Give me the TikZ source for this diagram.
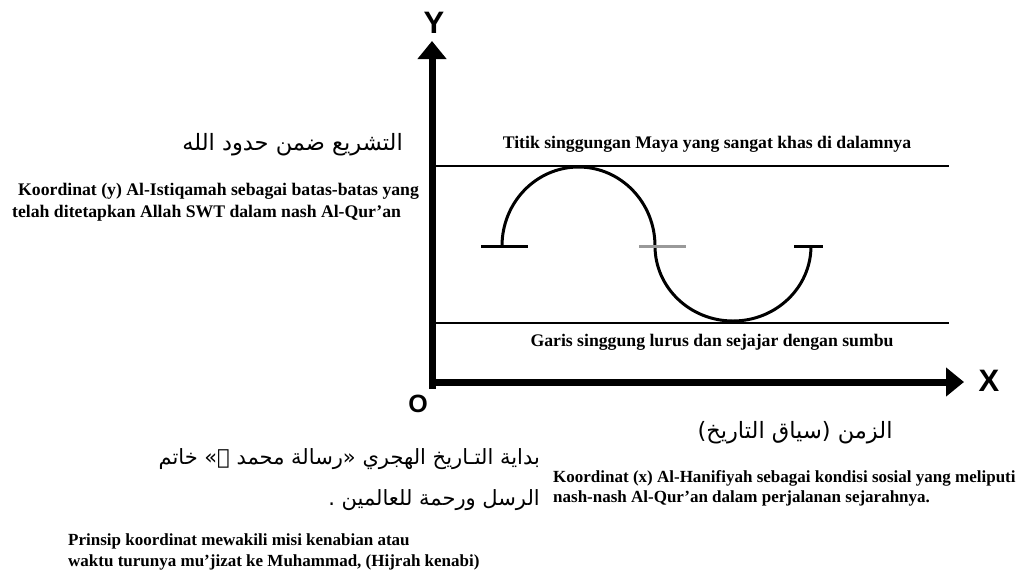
\documentclass[tikz,border=0pt]{standalone}
\usepackage{fontspec}
\setmainfont{Liberation Serif}
\newfontfamily\arabicfont[Script=Arabic]{DejaVu Sans}
\newfontfamily\axfont{Liberation Sans}
\TeXXeTstate=1
\usetikzlibrary{arrows.meta}
\begin{document}
\begin{tikzpicture}[x=1pt,y=-1pt,
  lat/.style={font=\fontsize{17.7}{22}\selectfont\bfseries, inner sep=0pt, anchor=base west},
  latc/.style={font=\fontsize{17.7}{22}\selectfont\bfseries, inner sep=0pt, anchor=base},
  latx/.style={font=\fontsize{17}{21}\selectfont\bfseries, inner sep=0pt, anchor=base west},
  ara/.style={font=\arabicfont\fontsize{22.5}{40}\selectfont, inner sep=0pt},
  arab/.style={font=\arabicfont\fontsize{21}{40}\selectfont, inner sep=0pt, anchor=east},
  axlab/.style={font=\axfont\bfseries\fontsize{31}{31}\selectfont, inner sep=0pt},
  axisline/.style={line width=7pt, -{Triangle[width=28pt,length=18pt]}},
  hline/.style={line width=2pt},
  curveline/.style={line width=3pt},
  tickline/.style={line width=3pt},
  graytick/.style={line width=3pt, draw=gray!80}]
\useasboundingbox[fill=white] (0,0) rectangle (1024,574);

% axes
\coordinate (yb) at (432,389);
\coordinate (yt) at (432,41);
\coordinate (xb) at (429,382);
\coordinate (xt) at (964,382);
\draw[axisline] (yb) -- (yt);
\draw[axisline] (xb) -- (xt);
\node[axlab] (ylab) at (434,23) {Y};
\node[axlab] (xlab) at (989,381) {X};
\node[axlab, font=\axfont\bfseries\fontsize{25}{25}\selectfont] (olab) at (418,404) {O};

% horizontal tangent lines
\coordinate (u1) at (436,166);
\coordinate (u2) at (949,166);
\coordinate (l1) at (436,323);
\coordinate (l2) at (949,323);
\draw[hline] (u1) -- (u2);
\draw[hline] (l1) -- (l2);

% curve
\coordinate (t1a) at (481,246);
\coordinate (t1b) at (528,246);
\coordinate (c0) at (502,246);
\coordinate (t2a) at (639,246);
\coordinate (t2b) at (686,246);
\coordinate (t3a) at (794,246);
\coordinate (t3b) at (823,246);
\draw[tickline] (t1a) -- (t1b);
\draw[tickline] (t3a) -- (t3b);
\draw[curveline] (c0) arc[start angle=180, end angle=360, x radius=76.5, y radius=79]
  arc[start angle=180, end angle=0, x radius=78, y radius=75];
\draw[graytick] (t2a) -- (t2b);

% labels on lines
\node[latc] (titik) at (707,148) {Titik singgungan Maya yang sangat khas di dalamnya};
\node[latc] (garis) at (712,346) {Garis singgung lurus dan sejajar dengan sumbu};

% top-left
\node[ara, anchor=east] (tasyri) at (403,145) {\beginR التشريع ضمن حدود الله\endR};
\node[lat] (ky1) at (18,195) {Koordinat (y) Al-Istiqamah sebagai batas-batas yang};
\node[lat] (ky2) at (12,217) {telah ditetapkan Allah SWT dalam nash Al-Qur’an};

% bottom-right
\node[ara] (zaman) at (795,433) {\beginR الزمن (سياق التاريخ)\endR};
\node[latx] (kx1) at (553,482) {Koordinat (x) Al-Hanifiyah sebagai kondisi sosial yang meliputi};
\node[latx] (kx2) at (553,502) {nash-nash Al-Qur’an dalam perjalanan sejarahnya.};

% bottom-left
\node[arab] (bid1) at (540,459) {\beginR بداية التـاريخ الهجري «رسالة محمد ﷺ» خاتم\endR};
\node[arab] (bid2) at (540,500) {\beginR الرسل ورحمة للعالمين .\endR};
\node[latx] (pr1) at (68,545) {Prinsip koordinat mewakili misi kenabian atau};
\node[latx] (pr2) at (68,566) {waktu turunya mu’jizat ke Muhammad, (Hijrah kenabi)};
\end{tikzpicture}
\end{document}
